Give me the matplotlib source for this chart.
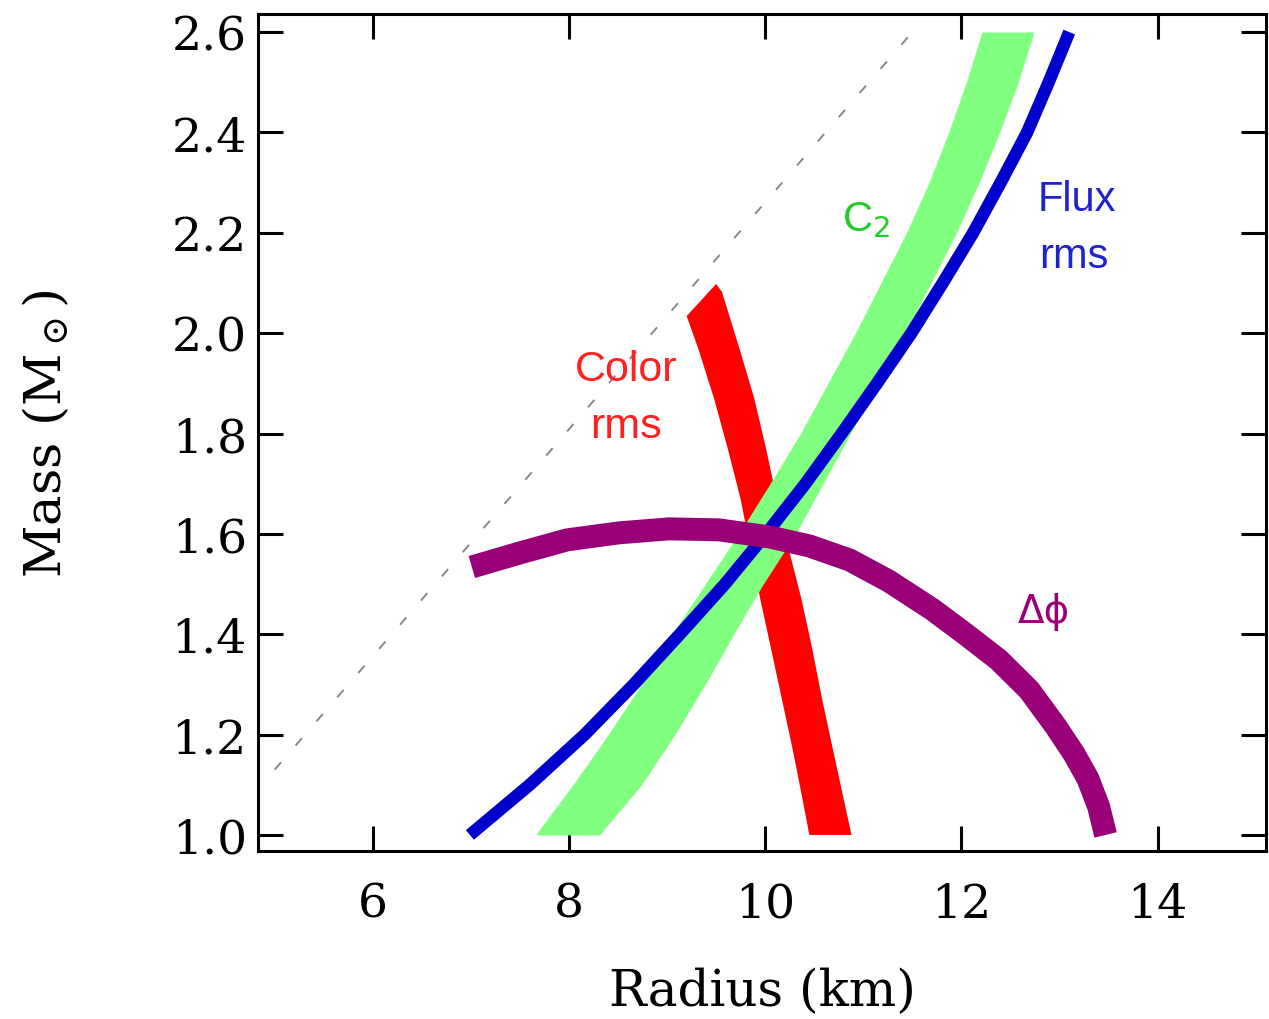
"""Mass-radius constraints plot

    Draws the flux rms, color rms, C2 and delta-phi constraint bands in the
    mass-radius plane, together with the photon-sphere limit.
"""

import numpy as np
import matplotlib
matplotlib.use('Agg')
import matplotlib.pyplot as plt

# Mass grid (solar masses) the flux rms and C2 curves were read at
gridMass = [1.0, 1.1, 1.2, 1.3, 1.4, 1.5, 1.6, 1.7, 1.8, 1.9,
            2.0, 2.1, 2.2, 2.3, 2.4, 2.5, 2.6]

# Flux rms (blue line), radius in km
fluxRadius = [6.99, 7.60, 8.16, 8.66, 9.13, 9.59, 10.01, 10.41, 10.78, 11.14,
              11.49, 11.81, 12.12, 12.40, 12.67, 12.89, 13.10]

# C2 band (green), left and right edges in km
c2Left = [7.66, 8.04, 8.40, 8.74, 9.05, 9.39, 9.73, 10.05, 10.36, 10.64,
          10.92, 11.18, 11.44, 11.67, 11.87, 12.05, 12.21]
c2Right = [8.31, 8.74, 9.08, 9.39, 9.68, 9.98, 10.31, 10.59, 10.87, 11.15,
           11.43, 11.69, 11.95, 12.18, 12.39, 12.58, 12.74]

# Color rms band (red), edges of the band
colorLeftMass = [1.0, 1.072, 1.171, 1.271, 1.371, 1.470, 1.570, 1.669,
                 1.769, 1.869, 1.968, 2.034]
colorLeftRadius = [10.45, 10.38, 10.28, 10.17, 10.06, 9.95, 9.85, 9.75,
                   9.62, 9.48, 9.32, 9.20]
colorRightMass = [1.0, 1.072, 1.171, 1.271, 1.371, 1.470, 1.570, 1.669,
                  1.769, 1.869, 1.968, 2.082, 2.098]
colorRightRadius = [10.88, 10.80, 10.69, 10.58, 10.48, 10.37, 10.24, 10.12,
                    10.01, 9.89, 9.74, 9.56, 9.50]

# Delta phi (purple line)
phaseRadius = [7.01, 7.50, 7.98, 8.51, 9.02, 9.53, 10.04, 10.45, 10.86,
               11.26, 11.70, 12.03, 12.38, 12.69, 12.96, 13.15, 13.29,
               13.40, 13.47]
phaseMass = [1.534, 1.562, 1.588, 1.602, 1.610, 1.608, 1.594, 1.576, 1.548,
             1.506, 1.450, 1.402, 1.349, 1.289, 1.217, 1.161, 1.112,
             1.056, 1.0]

# Photon sphere limit (dashed)
photonRadius = [5.0, 11.5]
photonMass = [1.13, 2.60]

xTicks = [6, 8, 10, 12, 14]
yTicks = [1.0, 1.2, 1.4, 1.6, 1.8, 2.0, 2.2, 2.4, 2.6]


def main():
    """Build the figure and save it to out.png"""
    plt.rcParams['mathtext.fontset'] = 'dejavuserif'
    plt.rcParams['lines.scale_dashes'] = False

    fig = plt.figure(figsize=(12.69, 10.2), dpi=100)
    ax = fig.add_axes([0.2033, 0.1647, 0.7947, 0.8206])

    #Photon sphere line
    ax.plot(photonRadius, photonMass, color='#888888', lw=1.4,
            dashes=(7, 16), zorder=1)

    #Color rms band as a closed polygon
    polyR = colorLeftRadius + colorRightRadius[::-1]
    polyM = colorLeftMass + colorRightMass[::-1]
    ax.fill(polyR, polyM, color='#ff0000', lw=0, zorder=2)

    #C2 band
    ax.fill_betweenx(gridMass, c2Left, c2Right, color='#80ff80', lw=0,
                     zorder=3)

    #Flux rms line
    ax.plot(fluxRadius, gridMass, color='#0000cc', lw=9, zorder=4,
            solid_capstyle='butt', solid_joinstyle='round')

    #Delta phi line
    ax.plot(phaseRadius, phaseMass, color='#990077', lw=16.5, zorder=5,
            solid_capstyle='butt', solid_joinstyle='round')

    sans = 'Liberation Sans'
    ax.text(8.58, 1.928, 'Color', color='#ff2020', fontsize=31,
            family=sans, ha='center', va='center')
    ax.text(8.58, 1.815, 'rms', color='#ff2020', fontsize=31,
            family=sans, ha='center', va='center')
    ax.text(11.03, 2.227, 'C$_2$', color='#22cc22', fontsize=30,
            family=sans, ha='center', va='center',
            math_fontfamily='dejavusans')
    ax.text(13.18, 2.267, 'Flux', color='#2222cc', fontsize=30,
            family=sans, ha='center', va='center')
    ax.text(13.15, 2.154, 'rms', color='#2222cc', fontsize=30,
            family=sans, ha='center', va='center')
    ax.text(12.84, 1.446, '\u0394\u03d5', color='#990077', fontsize=28,
            family='DejaVu Sans', ha='center', va='center')

    ax.set_xlim(4.83, 15.11)
    ax.set_ylim(0.968, 2.636)
    ax.set_xticks(xTicks)
    ax.set_yticks(yTicks)
    ax.set_xticklabels([str(t) for t in xTicks])
    ax.set_yticklabels(['%.1f' % t for t in yTicks])

    ax.tick_params(direction='in', length=18, width=2.2, top=True,
                   right=True, labelsize=34)
    ax.tick_params(axis='x', pad=22)
    ax.tick_params(axis='y', pad=8)
    for lab in ax.get_xticklabels() + ax.get_yticklabels():
        lab.set_family('DejaVu Serif')
    for spine in ax.spines.values():
        spine.set_linewidth(2.2)

    ax.set_xlabel('Radius (km)', fontsize=36, family='DejaVu Serif')
    ax.set_ylabel(r'Mass (M$_\odot$)', fontsize=37, family='DejaVu Serif')
    ax.xaxis.set_label_coords(0.5, -0.138)
    ax.yaxis.set_label_coords(-0.184, 0.5)

    fig.savefig('out.png', dpi=100)


if (__name__ == "__main__"):
    main()
